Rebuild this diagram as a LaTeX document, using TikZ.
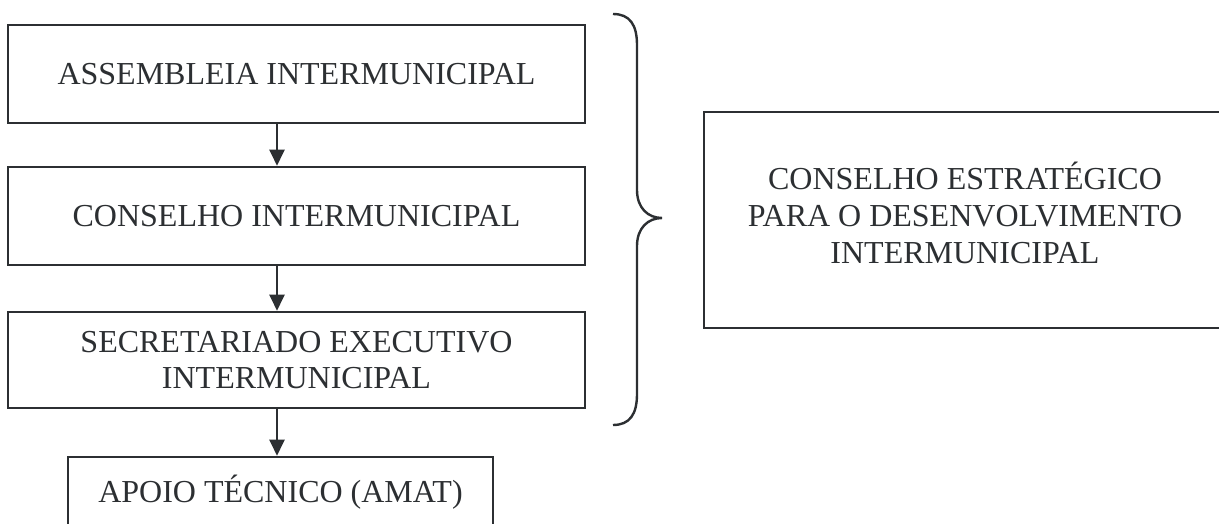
\documentclass[tikz,border=0pt]{standalone}
\usepackage{fontspec}
\setmainfont{Liberation Serif}
\usetikzlibrary{arrows.meta}
\definecolor{ink}{HTML}{2C2F32}
\begin{document}
\begin{tikzpicture}[x=1pt,y=-1pt,
  box/.style={draw=ink,line width=2.6pt,text=ink,align=center,inner sep=0pt,
    font=\fontsize{32}{36}\selectfont},
  txt/.style={text=ink,align=center,inner sep=0pt,font=\fontsize{32}{37}\selectfont},
  arr/.style={draw=ink,line width=2.4pt,-{Triangle[length=16pt,width=15pt]}}]
\useasboundingbox (0,0) rectangle (1219,524);
\fill[white] (0,0) rectangle (1219,524);
\node[box,minimum width=577pt,minimum height=98pt] (b1) at (296.5,74) {ASSEMBLEIA INTERMUNICIPAL};
\node[box,minimum width=577pt,minimum height=98pt] (b2) at (296.5,216) {CONSELHO INTERMUNICIPAL};
\node[box,minimum width=577pt,minimum height=96pt] (b3) at (296.5,360) {SECRETARIADO EXECUTIVO\\INTERMUNICIPAL};
\node[box,minimum width=425pt,minimum height=70pt] (b4) at (280.5,492) {APOIO TÉCNICO (AMAT)};
\node[box,minimum width=522pt,minimum height=216pt] (b5) at (965,220) {};
\node[txt] (t5) at (965,213) {CONSELHO ESTRATÉGICO\\PARA O DESENVOLVIMENTO\\INTERMUNICIPAL};
\coordinate (ax) at (277,0);
\draw[arr] (b1.south -| ax) -- (b2.north -| ax);
\draw[arr] (b2.south -| ax) -- (b3.north -| ax);
\draw[arr] (b3.south -| ax) -- (b4.north -| ax);
\draw[ink,line width=2.4pt] (613,14) .. controls (630,14) and (637,25) .. (637,45)
  -- (637,190) .. controls (637,208) and (648,218) .. (662,218)
  .. controls (648,218) and (637,228) .. (637,246)
  -- (637,394) .. controls (637,414) and (630,425) .. (613,425);
\end{tikzpicture}
\end{document}
